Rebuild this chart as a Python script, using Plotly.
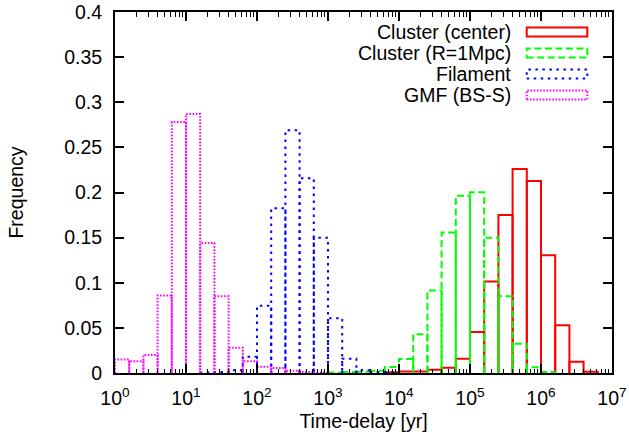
import plotly.graph_objects as go

# ---- data (histogram over log10 of time-delay, bins of 0.2 decade from 10^0) ----
BIN_LOG_START = 0.0
BIN_LOG_WIDTH = 0.2

series_names = ["Cluster (center)", "Cluster (R=1Mpc)", "Filament", "GMF (BS-S)"]
series_colors = ["#ff0000", "#00ff00", "#0000ff", "#ff00ff"]
series_dashes = ["solid", "7px,3.5px", "2.5px,4.5px", "1.6px,1.6px"]

cluster_center = [0, 0, 0, 0, 0, 0, 0, 0, 0, 0,
                  0, 0, 0, 0, 0, 0, 0, 0, 0, 0.0008,
                  0.0018, 0.0017, 0.0037, 0.0057, 0.0158, 0.0455, 0.1015, 0.175, 0.226, 0.2127,
                  0.1305, 0.053, 0.0125, 0.0014, 0]
cluster_1mpc = [0, 0, 0, 0, 0, 0, 0, 0, 0, 0,
                0, 0, 0, 0, 0, 0.0005, 0.001, 0.0015, 0.0025, 0.0066,
                0.0155, 0.043, 0.0914, 0.1556, 0.1965, 0.2002, 0.150, 0.085, 0.0324, 0.0064,
                0.001, 0, 0, 0, 0]
filament = [0, 0, 0, 0, 0, 0, 0.0005, 0.001, 0.003, 0.018,
            0.0744, 0.1825, 0.269, 0.2157, 0.150, 0.0608, 0.0158, 0.003, 0.001, 0.0005,
            0, 0, 0, 0, 0, 0, 0, 0, 0, 0,
            0, 0, 0, 0, 0]
gmf_bss = [0.015, 0.013, 0.020, 0.086, 0.278, 0.287, 0.144, 0.085, 0.028, 0.013,
           0.007, 0.0055, 0.0025, 0.001, 0.0005, 0, 0, 0, 0, 0,
           0, 0, 0, 0, 0, 0, 0, 0, 0, 0,
           0, 0, 0, 0, 0]

x_tick_exponents = [0, 1, 2, 3, 4, 5, 6, 7]
x_tick_labels = ["10<sup>%d</sup>" % e for e in x_tick_exponents]

FONT = "Liberation Sans, Arial, Helvetica, sans-serif"
FS = 19.5


def outline(values):
    xs, ys = [], []
    for i, v in enumerate(values):
        if v <= 0:
            continue
        lo = 10 ** (BIN_LOG_START + i * BIN_LOG_WIDTH)
        hi = 10 ** (BIN_LOG_START + (i + 1) * BIN_LOG_WIDTH)
        xs += [lo, lo, hi, hi, None]
        ys += [0, v, v, 0, None]
    return xs, ys


fig = go.Figure()
for name, vals, col, dash in zip(series_names,
                                 [cluster_center, cluster_1mpc, filament, gmf_bss],
                                 series_colors, series_dashes):
    xs, ys = outline(vals)
    fig.add_trace(go.Scatter(x=xs, y=ys, mode="lines", name=name,
                             line=dict(color=col, width=2, dash=dash),
                             showlegend=False, hoverinfo="skip"))

# gnuplot-style key: right-aligned text followed by an outlined sample box
key_x_text = 0.801
key_x0, key_x1 = 0.8284, 0.9503
key_rows = [0.9446, 0.8864, 0.8283, 0.7701]
half_h = 0.0125
for name, col, dash, yy in zip(series_names, series_colors, series_dashes, key_rows):
    fig.add_annotation(x=key_x_text, y=yy, xref="paper", yref="paper",
                       text=name, showarrow=False, xanchor="right", yanchor="middle",
                       font=dict(family=FONT, size=FS, color="black"))
    fig.add_shape(type="rect", xref="paper", yref="paper",
                  x0=key_x0, x1=key_x1, y0=yy - half_h, y1=yy + half_h,
                  line=dict(color=col, width=2, dash=dash), fillcolor="rgba(0,0,0,0)")

minor_x = [k * 10 ** e for e in range(0, 7) for k in range(2, 10)]

fig.update_xaxes(type="log", range=[0, 7], automargin=False, ticklabeloverflow="allow",
                 tickvals=[10 ** e for e in x_tick_exponents], ticktext=x_tick_labels,
                 ticks="inside", ticklen=9, tickwidth=1.5, tickcolor="black",
                 minor=dict(ticks="inside", ticklen=4.5, tickwidth=1.2, tickcolor="black",
                            tickvals=minor_x, showgrid=False),
                 showline=True, linecolor="black", linewidth=2, mirror="ticks",
                 showgrid=False, zeroline=False, ticklabelstandoff=7,
                 tickfont=dict(family=FONT, size=FS, color="black"),
                 title=dict(text="Time-delay [yr]", font=dict(family=FONT, size=FS, color="black"),
                            standoff=6))
fig.update_yaxes(range=[0, 0.4], dtick=0.05, tick0=0, automargin=False, ticklabeloverflow="allow",
                 ticks="inside", ticklen=9, tickwidth=1.5, tickcolor="black",
                 showline=True, linecolor="black", linewidth=2, mirror="ticks",
                 showgrid=False, zeroline=False, ticklabelstandoff=7,
                 tickfont=dict(family=FONT, size=FS, color="black"),
                 title=dict(text="Frequency", font=dict(family=FONT, size=FS, color="black"),
                            standoff=35))

fig.update_layout(width=629, height=438,
                  margin=dict(l=115, r=17, t=12, b=65),
                  paper_bgcolor="white", plot_bgcolor="white",
                  showlegend=False)

fig.write_html("out.html", config={"displayModeBar": False},
               post_script="document.body.style.margin='0';")
